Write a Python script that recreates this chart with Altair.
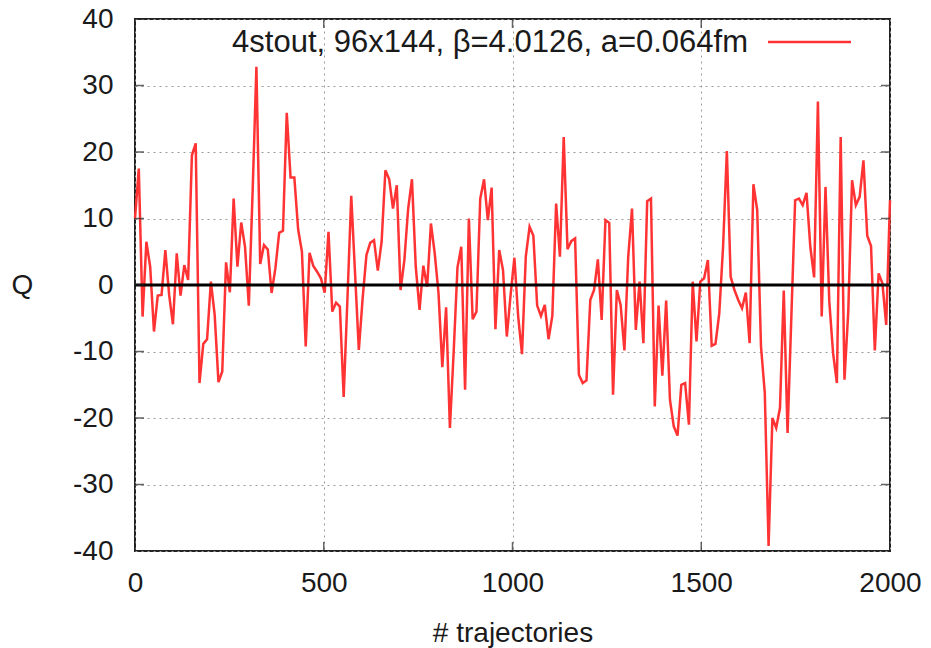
import altair as alt
import pandas as pd

# Topological charge Q every ~10 trajectories
q_values = [
    10, 17.5, -4.75, 6.5, 2.75, -7, -1.6, -1.5, 5.25, -1.5,
    -5.9, 4.75, -1.6, 3, 0.75, 19.5, 21.3, -14.75, -8.85, -8.15,
    0.5, -4.5, -14.6, -13, 3.4, -1.1, 13, 2.75, 9.4, 5.75,
    -3.1, 14, 32.8, 3.15, 6, 5.35, -1.2, 2.5, 7.85, 8.15,
    25.9, 16.15, 16.15, 8.35, 5, -9.25, 4.85, 2.85, 2, 1,
    -1.15, 8, -4, -2.65, -3.25, -16.85, -2, 13.4, 1.75, -9.75,
    -2, 4.5, 6.35, 6.75, 2.15, 6.5, 17.25, 15.9, 11.5, 15,
    -0.75, 3.75, 11.5, 15.9, 2.75, -3.75, 2.9, -0.25, 9.25, 4.75,
    -1.25, -12.35, -3.35, -21.5, -10, 2.65, 5.75, -15.75, 10, -5.15,
    -4, 13, 15.9, 9.75, 14.65, -6.65, 5.25, 2.25, -7.75, -1.5,
    4.1, -4.75, -10.4, 4.25, 8.75, 7.4, -3.1, -4.65, -3, -8.15,
    -4.65, 12.25, 4.25, 22.25, 5.4, 6.6, 7, -13.5, -14.75, -14.35,
    -2.25, -0.75, 3.85, -5.25, 9.75, 9.35, -16.5, -0.75, -3, -9.85,
    4.25, 11.5, -6.75, 0.5, -8.75, 12.6, 13, -18.25, -3.1, -13.65,
    -2.35, -17.25, -21.25, -22.65, -15, -14.75, -21, 0.5, -8.5, 0.5,
    1, 3.75, -9.15, -8.85, -4.25, 5.75, 20.15, 1.25, -0.75, -2.25,
    -3.5, -1.15, -8.75, 15.15, 11.25, -9.25, -16.25, -39.25, -20, -21.5,
    -18.5, -0.85, -22.25, -4.75, 12.75, 13, 12, 13.85, 5.75, 1.15,
    27.6, -4.75, 14.75, -2.5, -10.25, -14.75, 22.25, -14.25, -4, 15.75,
    12, 13.25, 18.75, 7.4, 5.85, -9.85, 1.75, 0.25, -6, 12.75,
]
# trajectory numbers: evenly spaced samples from 0 to 2000
trajectories = [round(i * 2000 / (len(q_values) - 1), 2) for i in range(len(q_values))]

x_ticks = [0, 500, 1000, 1500, 2000]
y_ticks = [-40, -30, -20, -10, 0, 10, 20, 30, 40]
legend_label = "4stout, 96x144, β=4.0126, a=0.064fm"

W, H = 755, 532
FONT = "Liberation Sans"
LINE_RED = "#ff3333"
TXT = "#1a1a1a"

df = pd.DataFrame({"traj": trajectories, "Q": q_values})

x_scale = alt.Scale(domain=[0, 2000], nice=False, zero=False)
y_scale = alt.Scale(domain=[-40, 40], nice=False, zero=False)

x_axis = alt.Axis(
    values=x_ticks, title="# trajectories",
    labelExpr="'' + datum.value", labelFlush=False, labelOverlap=False,
    labelFont=FONT, labelFontSize=28, labelColor=TXT, labelPadding=18,
    titleFont=FONT, titleFontSize=28, titleFontWeight="normal", titleColor=TXT,
    titlePadding=22,
    ticks=False, domain=False, grid=True,
    gridDash=[2, 4], gridColor="#9a9a9a", gridWidth=1,
)
y_axis = alt.Axis(
    values=y_ticks, title="Q",
    labelExpr="'' + datum.value", labelFlush=False, labelOverlap=False,
    labelFont=FONT, labelFontSize=28, labelColor=TXT, labelPadding=22,
    titleFont=FONT, titleFontSize=28, titleFontWeight="normal", titleColor=TXT,
    titleAngle=0, titleX=-113, titleY=H / 2, titleAlign="center", titleBaseline="middle",
    ticks=False, domain=False, grid=True,
    gridDash=[2, 4], gridColor="#9a9a9a", gridWidth=1,
)

line = alt.Chart(df).mark_line(color=LINE_RED, strokeWidth=2.5).encode(
    x=alt.X("traj:Q", scale=x_scale, axis=x_axis),
    y=alt.Y("Q:Q", scale=y_scale, axis=y_axis),
)

zero = alt.Chart(pd.DataFrame({"z": [0]})).mark_rule(color="black", strokeWidth=3).encode(
    y=alt.Y("z:Q", scale=y_scale)
)

ydf = pd.DataFrame({"v": y_ticks})
xdf = pd.DataFrame({"v": x_ticks})
tick_style = dict(color="#222222", thickness=1.5, size=18, clip=True)
yt_left = alt.Chart(ydf).mark_tick(orient="horizontal", **tick_style).encode(
    y=alt.Y("v:Q", scale=y_scale), x=alt.value(0))
yt_right = alt.Chart(ydf).mark_tick(orient="horizontal", **tick_style).encode(
    y=alt.Y("v:Q", scale=y_scale), x=alt.value(W))
xt_bottom = alt.Chart(xdf).mark_tick(orient="vertical", **tick_style).encode(
    x=alt.X("v:Q", scale=x_scale), y=alt.value(H))
xt_top = alt.Chart(xdf).mark_tick(orient="vertical", **tick_style).encode(
    x=alt.X("v:Q", scale=x_scale), y=alt.value(0))

leg = pd.DataFrame({"t": [legend_label]})
legend_text = alt.Chart(leg).mark_text(
    font=FONT, fontSize=31, align="right", baseline="middle", color=TXT
).encode(text="t:N", x=alt.value(613), y=alt.value(24))
legend_line = alt.Chart(leg).mark_rule(color=LINE_RED, strokeWidth=2.5).encode(
    x=alt.value(633), x2=alt.value(716), y=alt.value(23))

chart = alt.layer(
    line, zero, yt_left, yt_right, xt_bottom, xt_top, legend_text, legend_line
).properties(
    width=W, height=H,
    autosize=alt.AutoSizeParams(type="none"),
    padding={"left": 135, "top": 19, "right": 41, "bottom": 97},
    background="white",
).configure_view(stroke="#222222", strokeWidth=2)

chart.save("out.html", embed_options={"renderer": "svg", "actions": False})
